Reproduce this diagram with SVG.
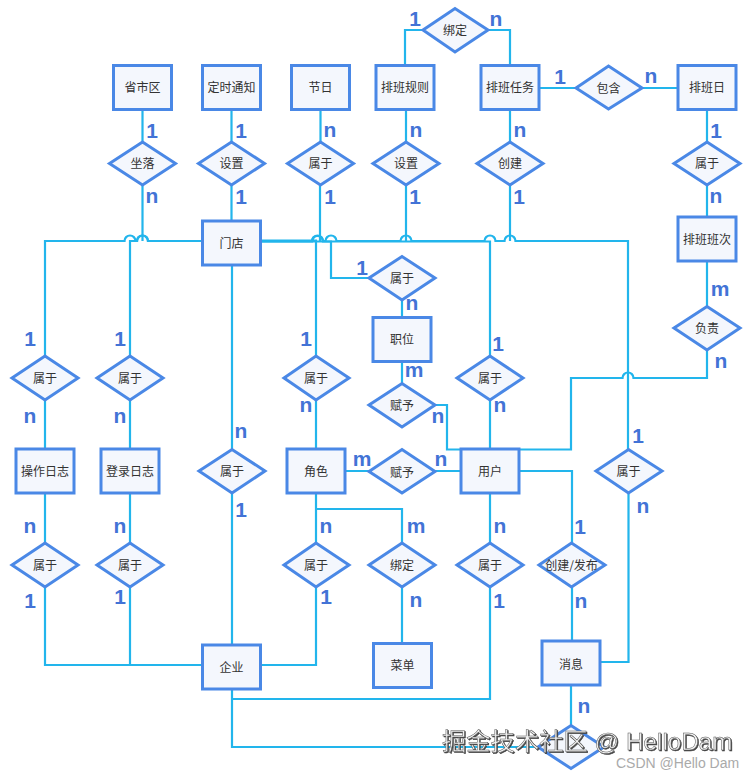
<svg xmlns="http://www.w3.org/2000/svg" width="755" height="778" viewBox="0 0 755 778">
<style>
.c{fill:none;stroke:#22B5EC;stroke-width:2.2}
.n rect,.n polygon{fill:#F4F7FD;stroke:#4A88E6;stroke-width:3;stroke-linejoin:miter}
.n text{font:12px "Noto Sans CJK SC","Liberation Sans",sans-serif;fill:#333;text-anchor:middle}
.l text{font:bold 21px "Liberation Sans",sans-serif;fill:#4273D6;text-anchor:middle}
.w{font:24.300px "Liberation Sans","Noto Sans CJK SC",sans-serif;fill:#f2f2f2;stroke:#555;stroke-width:.5;filter:drop-shadow(1px 1px 0 #444)}
.s{font:14px "Liberation Sans",sans-serif;fill:#aaa}
</style>
<rect width="755" height="778" fill="#fff"/>
<g id="connectors" class="c">
<path d="M142.500 109V142M231.500 109V142M320.500 109V142M406 109V142M510 109V142M707 109V142"/>
<path d="M142.500 185V241M231.500 185V221M320 185V241M406 185V241M510 185V241M707 185V217"/>
<path d="M405 65V30H422M488 30H510V65M539 88H576M641 88H678"/>
<path d="M45 356V241H124.500A5.500 5.500 0 0 1 135.500 241H137A5.500 5.500 0 0 1 148 241H203"/>
<path d="M130 356V241H137A5.500 5.500 0 0 1 148 241H203"/>
<path d="M261 241H312A5.500 5.500 0 0 1 323 241H325.500A5.500 5.500 0 0 1 336.500 241H400.500A5.500 5.500 0 0 1 411.500 241H484.500A5.500 5.500 0 0 1 495.500 241H504.500A5.500 5.500 0 0 1 515.500 241H628V449"/>
<path d="M261 240.500H316V356M261 241.500H312A5.500 5.500 0 0 1 323 241.500H331V278H369"/>
<path d="M261 241.500H490V356"/>
<path d="M402 300V318M402 361V383M316 400V449M490 400V449M435 405H447V449.500H571V378H622.500A5.500 5.500 0 0 1 633.500 378H707V350"/>
<path d="M345 471H369M435 471H461M519 471H572V543M572 587V641M571 685V725M538 747H232V689M232 699H490V587M261 665H316V587M203 665H45V587M130 665V587"/>
<path d="M45 400V449M130 400V449M45 493V543M130 493V543M232 265V449M232 493V645M316 493V543M316 509H402V543M402 587V644M490 493V543"/>
<path d="M628.500 493V662H600M707 261V306"/>
</g>
<g id="e1" class="n"><rect x="113.500" y="65.500" width="58" height="44"/><text x="142.500" y="92">省市区</text></g>
<g id="e2" class="n"><rect x="202.500" y="65.500" width="58" height="44"/><text x="231.500" y="92">定时通知</text></g>
<g id="e3" class="n"><rect x="291.500" y="65.500" width="58" height="44"/><text x="320.500" y="92">节日</text></g>
<g id="e4" class="n"><rect x="376" y="65.500" width="58" height="44"/><text x="405" y="92">排班规则</text></g>
<g id="e5" class="n"><rect x="481" y="65.500" width="58" height="44"/><text x="510" y="92">排班任务</text></g>
<g id="e6" class="n"><rect x="678" y="65.500" width="58" height="44"/><text x="707" y="92">排班日</text></g>
<g id="e7" class="n"><rect x="202.500" y="221" width="58" height="44"/><text x="231.500" y="247.500">门店</text></g>
<g id="e8" class="n"><rect x="678" y="217" width="58" height="44"/><text x="707" y="244">排班班次</text></g>
<g id="e9" class="n"><rect x="373" y="317.500" width="58" height="44"/><text x="402" y="344">职位</text></g>
<g id="e10" class="n"><rect x="16" y="449" width="58" height="44"/><text x="45" y="476">操作日志</text></g>
<g id="e11" class="n"><rect x="101" y="449" width="58" height="44"/><text x="130" y="476">登录日志</text></g>
<g id="e12" class="n"><rect x="287" y="449" width="58" height="44"/><text x="316" y="476">角色</text></g>
<g id="e13" class="n"><rect x="461" y="449" width="58" height="44"/><text x="490" y="476">用户</text></g>
<g id="e14" class="n"><rect x="202.500" y="645" width="58" height="44"/><text x="231.500" y="672">企业</text></g>
<g id="e15" class="n"><rect x="373.500" y="643.500" width="58" height="44"/><text x="402.500" y="670">菜单</text></g>
<g id="e16" class="n"><rect x="542" y="641" width="58" height="44"/><text x="571" y="669">消息</text></g>
<g id="r1" class="n"><polygon points="109.500,163.500 142.500,142 175.500,163.500 142.500,185"/><text x="142.500" y="168">坐落</text></g>
<g id="r2" class="n"><polygon points="198.500,163.500 231.500,142 264.500,163.500 231.500,185"/><text x="231.500" y="168">设置</text></g>
<g id="r3" class="n"><polygon points="287.500,163.500 320.500,142 353.500,163.500 320.500,185"/><text x="320.500" y="168">属于</text></g>
<g id="r4" class="n"><polygon points="373,163.500 406,142 439,163.500 406,185"/><text x="406" y="168">设置</text></g>
<g id="r5" class="n"><polygon points="477,163.500 510,142 543,163.500 510,185"/><text x="510" y="168">创建</text></g>
<g id="r6" class="n"><polygon points="674,163.500 707,142 740,163.500 707,185"/><text x="707" y="168">属于</text></g>
<g id="r7" class="n"><polygon points="423,30 455,8.500 488,30 455,52"/><text x="455" y="35">绑定</text></g>
<g id="r8" class="n"><polygon points="576,88 608.500,66 642,88 608.500,109"/><text x="608.500" y="93">包含</text></g>
<g id="r9" class="n"><polygon points="369,278 402,256.500 435,278 402,300"/><text x="402" y="283">属于</text></g>
<g id="r10" class="n"><polygon points="674,328 707,306.500 740,328 707,350"/><text x="707" y="333">负责</text></g>
<g id="r11" class="n"><polygon points="12,378 45,356 78,378 45,400"/><text x="45" y="383">属于</text></g>
<g id="r12" class="n"><polygon points="97,378 130,356 163,378 130,400"/><text x="130" y="383">属于</text></g>
<g id="r13" class="n"><polygon points="284,378 316,356 349,378 316,400"/><text x="316" y="383">属于</text></g>
<g id="r14" class="n"><polygon points="369,405 402,383.500 435,405 402,427"/><text x="402" y="410">赋予</text></g>
<g id="r15" class="n"><polygon points="457,378 490,356 523,378 490,400"/><text x="490" y="383">属于</text></g>
<g id="r16" class="n"><polygon points="199,471 232,449.500 265,471 232,493"/><text x="232" y="476">属于</text></g>
<g id="r17" class="n"><polygon points="369,471.500 402,449.500 435,471.500 402,493"/><text x="402" y="476.500">赋予</text></g>
<g id="r18" class="n"><polygon points="596,471 628.500,449.500 662,471 628.500,493"/><text x="628.500" y="476">属于</text></g>
<g id="r19" class="n"><polygon points="12,565 45,543 78,565 45,587"/><text x="45" y="570">属于</text></g>
<g id="r20" class="n"><polygon points="97,565 130,543 163,565 130,587"/><text x="130" y="570">属于</text></g>
<g id="r21" class="n"><polygon points="284,565 316,543 349,565 316,587"/><text x="316" y="570">属于</text></g>
<g id="r22" class="n"><polygon points="369,565 402,543 435,565 402,587"/><text x="402" y="570">绑定</text></g>
<g id="r23" class="n"><polygon points="457,565 490,543 523,565 490,587"/><text x="490" y="570">属于</text></g>
<g id="r24" class="n"><polygon points="539,565 571.500,543 605,565 571.500,587"/><text x="571.500" y="570">创建/发布</text></g>
<g id="r25" class="n"><polygon points="538,747 571,725.500 604,747 571,768.500"/></g>
<g id="labels" class="l">
<text x="152" y="138">1</text><text x="241" y="138">1</text><text x="330" y="137">n</text>
<text x="152" y="203">n</text><text x="241" y="204">1</text><text x="330" y="204">1</text>
<text x="415" y="26">1</text><text x="496" y="26">n</text><text x="560" y="84">1</text><text x="651" y="83">n</text>
<text x="416" y="137">n</text><text x="520" y="137">n</text><text x="716" y="138">1</text>
<text x="415" y="204">1</text><text x="519" y="204">1</text><text x="716" y="203">n</text><text x="720" y="296">m</text>
<text x="362" y="275">1</text><text x="412" y="310">n</text><text x="414" y="377">m</text><text x="438" y="423">n</text>
<text x="306" y="346">1</text><text x="306" y="412">n</text><text x="498" y="351">1</text><text x="500" y="412">n</text>
<text x="362" y="466">m</text><text x="441" y="466">n</text><text x="638" y="443">1</text><text x="643" y="513">n</text>
<text x="721" y="368">n</text>
<text x="30" y="346">1</text><text x="120" y="346">1</text><text x="30" y="423">n</text><text x="120" y="423">n</text>
<text x="241" y="438">n</text><text x="241" y="517">1</text><text x="30" y="533">n</text><text x="120" y="533">n</text>
<text x="30" y="608">1</text><text x="120" y="604">1</text>
<text x="326" y="533">n</text><text x="416" y="533">m</text><text x="500" y="533">n</text><text x="580" y="534">1</text>
<text x="326" y="604">1</text><text x="416" y="607">n</text><text x="499" y="608">1</text><text x="581" y="608">n</text>
<text x="584" y="713">n</text>
</g>
<text class="w" x="442" y="750">掘金技术社区 @ HelloDam</text>
<text class="s" x="616" y="768">CSDN @Hello Dam</text>
</svg>
